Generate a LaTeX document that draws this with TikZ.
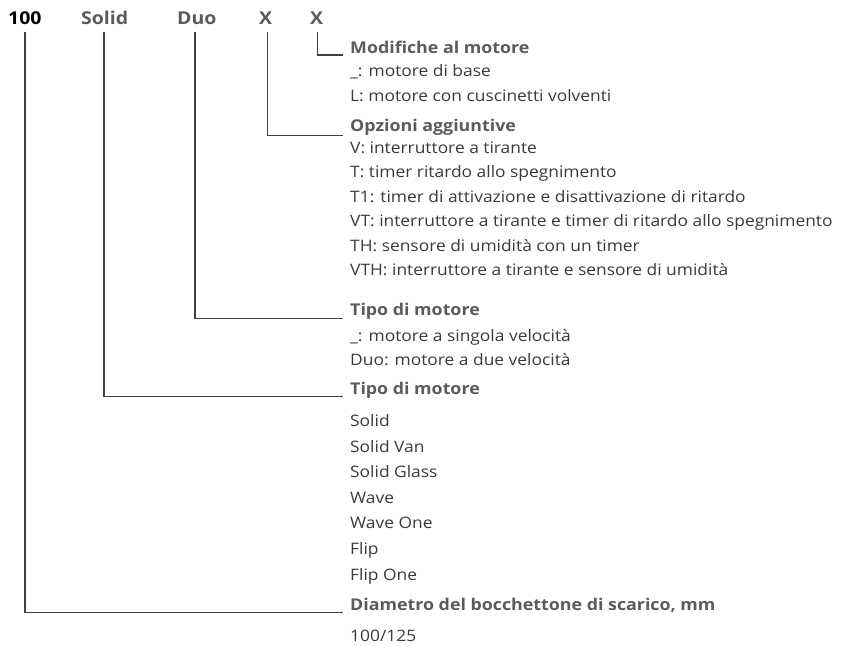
\documentclass[tikz,border=0pt]{standalone}
\usepackage{fontspec}
\setmainfont{Open Sans}[FakeStretch=1.1]
\definecolor{hdrgray}{HTML}{5A5B5D}
\definecolor{bodygray}{HTML}{3A3A3A}
\definecolor{linegray}{HTML}{404040}
\begin{document}
\begin{tikzpicture}[x=1pt,y=-1pt,
  toplbl/.style={anchor=base west,inner sep=0pt,font=\fontsize{17.7}{20}\selectfont\bfseries,text=hdrgray},
  hdr/.style={anchor=base west,inner sep=0pt,font=\fontsize{16.2}{19}\selectfont\bfseries,text=hdrgray},
  item/.style={anchor=base west,inner sep=0pt,font=\fontsize{15.8}{18}\selectfont,text=bodygray},
  conn/.style={draw=linegray,line width=1.1pt}]
\useasboundingbox (0,0) rectangle (842,645);
% top code
\node[toplbl,text=black] (t100) at (8,24) {100};
\node[toplbl] (tsolid) at (81,24) {Solid};
\node[toplbl] (tduo) at (177,24) {Duo};
\node[toplbl] (tx1) at (259,24) {X};
\node[toplbl] (tx2) at (310,24) {X};
\coordinate (v100) at (25,32);
\coordinate (vsolid) at (104,32);
\coordinate (vduo) at (195,32);
\coordinate (vx1) at (267.5,32);
\coordinate (vx2) at (317.5,32);
% headers
\node[hdr] (hmod) at (350,53) {Modifiche al motore};
\node[item] (m1) at (350,76.5) {\_: motore di base};
\node[item] (m2) at (350,101.5) {L: motore con cuscinetti volventi};
\node[hdr] (hopt) at (350,131.5) {Opzioni aggiuntive};
\node[item] (o1) at (350,153) {V: interruttore a tirante};
\node[item] (o2) at (350,177.5) {T: timer ritardo allo spegnimento};
\node[item] (o3) at (350,202) {T1: timer di attivazione e disattivazione di ritardo};
\node[item] (o4) at (350,226.5) {VT: interruttore a tirante e timer di ritardo allo spegnimento};
\node[item] (o5) at (350,251) {TH: sensore di umidità con un timer};
\node[item] (o6) at (350,275.5) {VTH: interruttore a tirante e sensore di umidità};
\node[hdr] (hduo) at (350,315.5) {Tipo di motore};
\node[item] (d1) at (350,341.7) {\_: motore a singola velocità};
\node[item] (d2) at (350,365) {Duo: motore a due velocità};
\node[hdr] (hsolid) at (350,394) {Tipo di motore};
\node[item] (s1) at (350,426.7) {Solid};
\node[item] (s2) at (350,452.2) {Solid Van};
\node[item] (s3) at (350,477.8) {Solid Glass};
\node[item] (s4) at (350,503.3) {Wave};
\node[item] (s5) at (350,528.8) {Wave One};
\node[item] (s6) at (350,554.4) {Flip};
\node[item] (s7) at (350,580) {Flip One};
\node[hdr] (hdia) at (350,610) {Diametro del bocchettone di scarico, mm};
\node[item] (dia1) at (350,641.2) {100/125};
% connector end points (line level of each header)
\coordinate (emod) at (343,55);
\coordinate (eopt) at (343,135.7);
\coordinate (eduo) at (343,318.3);
\coordinate (esolid) at (343,396.7);
\coordinate (edia) at (343,612.7);
% connectors
\draw[conn] (vx2) |- (emod);
\draw[conn] (vx1) |- (eopt);
\draw[conn] (vduo) |- (eduo);
\draw[conn] (vsolid) |- (esolid);
\draw[conn] (v100) |- (edia);
\end{tikzpicture}
\end{document}
